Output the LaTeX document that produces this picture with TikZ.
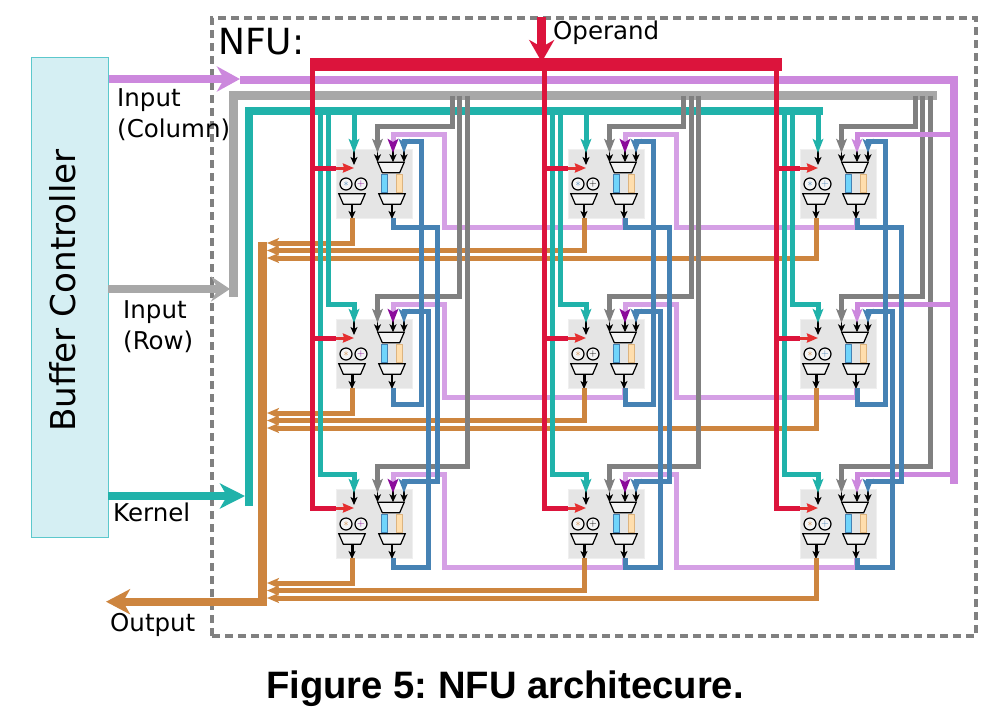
\documentclass[tikz,border=0pt]{standalone}
\usepackage{fontspec}
\setmainfont{DejaVu Sans}
\setsansfont{Liberation Sans}
\usepackage{xcolor}
\usepackage{tikz}
\usetikzlibrary{arrows.meta,calc}
\definecolor{nfuframe}{HTML}{808080}
\definecolor{bufferfill}{HTML}{D5EFF3}
\definecolor{bufferedge}{HTML}{5CC8CC}
\definecolor{pefill}{HTML}{E5E5E5}
\definecolor{peedge}{HTML}{EFEFEF}
\definecolor{muxfill}{HTML}{F4F4F4}
\definecolor{operandred}{HTML}{DC143C}
\definecolor{stubred}{HTML}{E53030}
\definecolor{colpurple}{HTML}{CC88DD}
\definecolor{lightpurple}{HTML}{D5A0E5}
\definecolor{darkpurple}{HTML}{8B0A9B}
\definecolor{rowgray}{HTML}{A8A8A8}
\definecolor{tapgray}{HTML}{808080}
\definecolor{kernteal}{HTML}{20B2AA}
\definecolor{outorange}{HTML}{CD853F}
\definecolor{loopblue}{HTML}{4682B4}
\definecolor{regblue}{HTML}{6FD4FB}
\definecolor{regorange}{HTML}{FFDEAD}
\definecolor{regedge}{HTML}{DDB47F}
\newcommand{\drawmux}[1]{\draw[draw=black,fill=muxfill,line width=1.2pt] (#1.north west) -- (#1.north east) -- ([xshift=-4.5pt]#1.south east) -- ([xshift=4.5pt]#1.south west) -- cycle;}
\tikzset{
  bigtip/.style={-{Stealth[length=#1,width=25pt,inset=7pt]}},
  wirehead/.style={-{Stealth[length=14pt,width=10.5pt,inset=3pt]}},
  darkhead/.style={-{Stealth[length=14pt,width=10.5pt,inset=3pt,color=darkpurple]}},
  smallhead/.style={-{Stealth[length=12pt,width=10pt,inset=3pt]}},
  blackarrow/.style={black,line width=1.5pt,shorten <=-3pt,-{Stealth[length=8pt,width=7pt,inset=2pt]}},
  pebox/.style={draw=peedge,fill=pefill,line width=1pt,minimum width=76pt,minimum height=69pt,inner sep=0pt},
  muxbox/.style={minimum width=26pt,minimum height=10pt,inner sep=0pt},
  opcircle/.style={draw=black,fill=muxfill,circle,line width=1.2pt,minimum size=12pt,inner sep=0pt,font=\fontsize{10}{10}\selectfont},
  regbox/.style={line width=1pt,minimum width=6pt,minimum height=18pt,inner sep=0pt},
  lbl/.style={anchor=base west,inner sep=0pt,font=\fontsize{24.5}{28}\selectfont},
  lanewire/.style={line width=5pt,miter limit=10}
}
\begin{document}
\begin{tikzpicture}[x=1pt,y=-1pt]
  \useasboundingbox (0,0) rectangle (991,716);
  \node[draw=nfuframe,line width=3.5pt,dash pattern=on 8pt off 5pt,minimum width=764pt,minimum height=618pt,inner sep=0pt] (nfu) at (594,327) {};
  \node[draw=bufferedge,fill=bufferfill,line width=1pt,minimum width=77pt,minimum height=480pt,inner sep=0pt] (buffer) at (69.5,297) {};
  \node[rotate=90,font=\fontsize{34.2}{36}\selectfont] (buffertext) at (63,290.5) {Buffer Controller};
  % bus points
  \coordinate (purplesrc) at (109,79);
  \coordinate (purpletip) at (240,79);
  \coordinate (purplebus) at (240,80);
  \coordinate (purpleend) at (954,80);
  \coordinate (purplebot) at (954,484);
  \coordinate (graysrc) at (108,289);
  \coordinate (graytip) at (230,289);
  \coordinate (graybot) at (233.5,297);
  \coordinate (graybus) at (937,95.5);
  \coordinate (tealsrc) at (108,496);
  \coordinate (tealtip) at (245,496);
  \coordinate (tealbot) at (248.5,506);
  \coordinate (tealbus) at (823,111);
  \coordinate (orangetop) at (262.7,242);
  \coordinate (orangebot) at (262.7,601.7);
  \coordinate (outputtip) at (106,601.7);
  \coordinate (redleft) at (310,64.5);
  \coordinate (redright) at (782,64.5);
  \coordinate (operandtop) at (541.7,17);
  \coordinate (operandtip) at (541.7,62);
  % the nine cells, named by column and row
  \foreach \col/\xx/\addcol in {1/0/darkpurple,2/232/black,3/464/loopblue}{
    \foreach \row/\yy/\mulcol/\lw in {1/0/loopblue/1.5,2/170/outorange/3,3/340/outorange/3}{
      \begin{scope}[shift={(\xx,\yy)}]
        \node[pebox] (pe\col\row) at (374.5,184) {};
        \node[muxbox] (muxl\col\row) at (352,199) {};
        \node[muxbox] (muxt\col\row) at (391,167.5) {};
        \node[muxbox] (muxb\col\row) at (392,199) {};
        \drawmux{muxl\col\row}
        \drawmux{muxt\col\row}
        \drawmux{muxb\col\row}
        \node[opcircle] (mul\col\row) at (346,184) {\textcolor{\mulcol}{$\ast$}};
        \node[opcircle] (add\col\row) at (361,184) {\textcolor{\addcol}{$+$}};
        \node[regbox,draw=loopblue,fill=regblue] (regl\col\row) at (384,183) {};
        \node[regbox,draw=regedge,fill=regorange] (regr\col\row) at (399,183) {};
        \coordinate (kertip\col\row) at (354,153);
        \coordinate (kerend\col\row) at (354,165);
        \coordinate (graytip\col\row) at (377.5,153);
        \coordinate (purptip\col\row) at (393,153);
        \coordinate (bluetop\col\row) at (404,139);
        \coordinate (bluetip\col\row) at (404,153);
        \coordinate (oprin\col\row) at (336,168);
        \coordinate (oprtip\col\row) at (354,168);
        \coordinate (outl\col\row) at (352,218);
        \coordinate (outr\col\row) at (393,218);
        \coordinate (purpturn\col\row) at (393,134);
        \coordinate (blueturn\col\row) at (404,141.5);
      \end{scope}
      \draw[blackarrow,shorten <=0pt,line width=\lw pt] (muxl\col\row.south) -- (muxl\col\row.south |- pe\col\row.south);
      \draw[blackarrow,shorten <=0pt] (muxb\col\row.south) -- (muxb\col\row.south |- pe\col\row.south);
      \draw[blackarrow] (kertip\col\row) -- (kerend\col\row);
      \draw[blackarrow] (graytip\col\row) -- (graytip\col\row |- muxt\col\row.north);
      \draw[blackarrow] (purptip\col\row) -- (purptip\col\row |- muxt\col\row.north);
      \draw[blackarrow] (bluetip\col\row) -- (bluetip\col\row |- muxt\col\row.north);
    }
  }
  % light purple hops from one column to the one on its left, dark heads at the end
  \foreach \col/\next/\lane in {1/2/444.5,2/3/676}{
    \foreach \row/\outy in {1/227,2/397,3/567}{
      \coordinate (hop\col\row) at (\lane,\outy);
      \draw[lanewire,lightpurple,darkhead] ($(outr\next\row)+(-1,0)$) |- (hop\col\row) |- (purpturn\col\row) -- (purptip\col\row);
    }
  }
  % output wires
  \foreach \col/\xx in {1/0,2/232,3/464}{
    \foreach \row/\yy in {1/0,2/170,3/340}{
      \coordinate (orbus\col\row) at (267,{243+7.5*(\col-1)+\yy});
      \draw[lanewire,outorange,smallhead] (outl\col\row) |- (orbus\col\row);
    }
  }
  \draw[line width=8.5pt,outorange] (orangetop) -- (orangebot);
  \draw[line width=8pt,outorange,bigtip=24pt] ($(orangebot)+(4.5,0)$) -- (outputtip);
  % gray bus
  \draw[line width=8pt,rowgray,bigtip=19pt] (graysrc) -- (graytip);
  \draw[line width=9pt,rowgray] (graybot) |- (graybus);
  % teal bus and its taps
  \draw[line width=8pt,kernteal,bigtip=25pt] (tealsrc) -- (tealtip);
  \draw[line width=8pt,kernteal] (tealbot) |- (tealbus);
  \foreach \col/\xx in {1/0,2/232,3/464}{
    \coordinate (tealtap\col2) at (328+\xx,111);
    \coordinate (tealtap\col3) at (320+\xx,111);
    \coordinate (tealturn\col2) at (354+\xx,304);
    \coordinate (tealturn\col3) at (354+\xx,474);
    \draw[lanewire,kernteal,wirehead] (kertip\col1 |- tealbus) -- (kertip\col1);
    \draw[lanewire,kernteal,wirehead] (tealtap\col2) |- (tealturn\col2) -- (kertip\col2);
    \draw[lanewire,kernteal,wirehead] (tealtap\col3) |- (tealturn\col3) -- (kertip\col3);
  }
  % gray taps
  \foreach \col/\xx in {1/0,2/231.5,3/463}{
    \foreach \row/\lane/\turn in {1/452/126.5,2/459.5/296.5,3/467/466.5}{
      \coordinate (graytap\col\row) at (\lane+\xx,95.5);
      \coordinate (grayknee\col\row) at (0,\turn);
      \draw[lanewire,tapgray,wirehead] (graytap\col\row) |- (graytip\col\row |- grayknee\col\row) -- (graytip\col\row);
    }
  }
  % column input
  \draw[line width=8pt,colpurple,bigtip=23pt] (purplesrc) -- (purpletip);
  \draw[line width=8pt,colpurple] (purplebus) -- ($(purpleend)+(4,0)$);
  \draw[line width=8pt,colpurple] (purpleend) -- (purplebot);
  \foreach \row in {1,2,3}{
    \draw[lanewire,colpurple,wirehead] (purpleend |- purpturn3\row) -- (purpturn3\row) -- (purptip3\row);
  }
  % blue loop down each column
  \foreach \col/\xx in {1/0,2/232,3/464}{
    \coordinate (lanea\col) at (437+\xx,227);
    \coordinate (laneb\col) at (428+\xx,567);
    \coordinate (lanec\col) at (421+\xx,404);
    \draw[lanewire,loopblue] (outr\col1) |- (lanea\col) |- (blueturn\col3);
    \draw[lanewire,loopblue] (outr\col3) |- (laneb\col) |- (blueturn\col2);
    \draw[lanewire,loopblue] (outr\col2) |- (lanec\col) |- (blueturn\col1);
    \foreach \row in {1,2,3}{
      \draw[lanewire,loopblue,wirehead] (bluetop\col\row) -- (bluetip\col\row);
    }
  }
  % operand lines
  \foreach \col/\lane in {1/312.5,2/544,3/776}{
    \coordinate (redtap\col) at (\lane,64.5);
    \draw[line width=5pt,operandred] (redtap\col) |- (oprin\col3);
    \draw[line width=5pt,operandred] (redtap\col |- oprin\col1) -- (oprin\col1);
    \draw[line width=5pt,operandred] (redtap\col |- oprin\col2) -- (oprin\col2);
    \foreach \row in {1,2,3}{
      \draw[line width=3pt,stubred,-{Stealth[length=11pt,width=9pt,inset=1pt]}] (oprin\col\row) -- (oprtip\col\row);
    }
  }
  \draw[line width=13pt,operandred] (redleft) -- (redright);
  \draw[line width=8.5pt,operandred,bigtip=22pt] (operandtop) -- (operandtip);
  % labels
  \node[anchor=base west,inner sep=0pt,font=\fontsize{36}{38}\selectfont] (nfulabel) at (218,54) {NFU:};
  \node[lbl] (inputcol) at (117,106) {Input};
  \node[lbl] (columnlbl) at (117,137) {(Column)};
  \node[lbl] (inputrow) at (123,318) {Input};
  \node[lbl] (rowlbl) at (123,349) {(Row)};
  \node[lbl] (kernellbl) at (113,521) {Kernel};
  \node[lbl] (outputlbl) at (110,631) {Output};
  \node[lbl] (operandlbl) at (553,39) {Operand};
  \node[anchor=base,font=\frenchspacing\sffamily\bfseries\fontsize{38.2}{42}\selectfont] (caption) at (505,698) {Figure 5: NFU architecure.};
\end{tikzpicture}
\end{document}
